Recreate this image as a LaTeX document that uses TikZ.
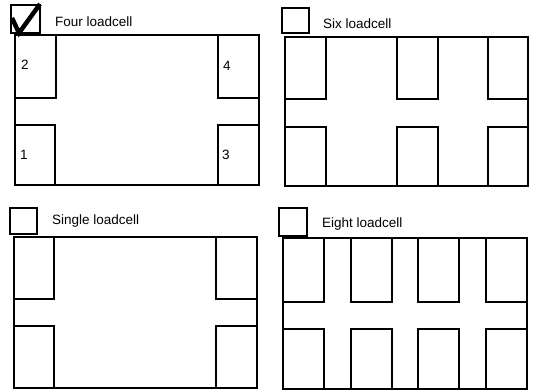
\documentclass[tikz,border=0pt]{standalone}
\usepackage{fontspec}
\setmainfont{Liberation Sans}
\begin{document}
\begin{tikzpicture}[x=1pt,y=-1pt,
  frame/.style={draw=black,line width=2.4pt,line join=miter},
  cell/.style={draw=black,line width=2.4pt,line join=miter},
  chk/.style={draw=black,line width=2.6pt},
  lbl/.style={font=\fontsize{13.5}{14}\selectfont,anchor=west,inner sep=0pt},
  num/.style={font=\fontsize{13.5}{14}\selectfont,inner sep=0pt}]
\useasboundingbox[fill=white] (0,0) rectangle (533,390);
% ---------- Panel 1: Four loadcell ----------
\draw[frame] (15,35) rectangle (259,185);
\draw[cell] (15,35) rectangle (56,98);
\draw[cell] (15,125) rectangle (55,185);
\draw[cell] (218,35) rectangle (259,98);
\draw[cell] (218,125) rectangle (259,185);
\draw[chk] (11,5) rectangle (40,33);
\coordinate (c1a) at (12,18);
\coordinate (c1b) at (19,33);
\coordinate (c1c) at (40,4);
\draw[line width=4.5pt,line join=miter] (c1a) -- (c1b) -- (c1c);
\node[lbl] (t1) at (55,22) {Four loadcell};
\node[num] (n2) at (25,65) {2};
\node[num] (n4) at (227,66) {4};
\node[num] (n1) at (24,155) {1};
\node[num] (n3) at (226,155) {3};
% ---------- Panel 2: Six loadcell ----------
\draw[frame] (285,37) rectangle (528,186);
\foreach \xa/\xb in {285/326,397/438,488/528}{
  \draw[cell] (\xa,37) rectangle (\xb,99);
  \draw[cell] (\xa,127) rectangle (\xb,186);
}
\draw[chk] (282,8) rectangle (309,33);
\node[lbl] (t2) at (323,24) {Six loadcell};
% ---------- Panel 3: Single loadcell ----------
\draw[frame] (14,237) rectangle (257,388);
\draw[cell] (14,237) rectangle (54,299);
\draw[cell] (14,326) rectangle (54,388);
\draw[cell] (216,237) rectangle (257,299);
\draw[cell] (216,326) rectangle (257,388);
\draw[chk] (10,208) rectangle (37,234);
\node[lbl] (t3) at (52,221) {Single loadcell};
% ---------- Panel 4: Eight loadcell ----------
\draw[frame] (283,238) rectangle (527,389);
\foreach \xa/\xb in {283/324,351/392,418/459,486/527}{
  \draw[cell] (\xa,238) rectangle (\xb,302);
  \draw[cell] (\xa,329) rectangle (\xb,389);
}
\draw[chk] (279,208) rectangle (307,236);
\node[lbl] (t4) at (322,224) {Eight loadcell};
\end{tikzpicture}
\end{document}
